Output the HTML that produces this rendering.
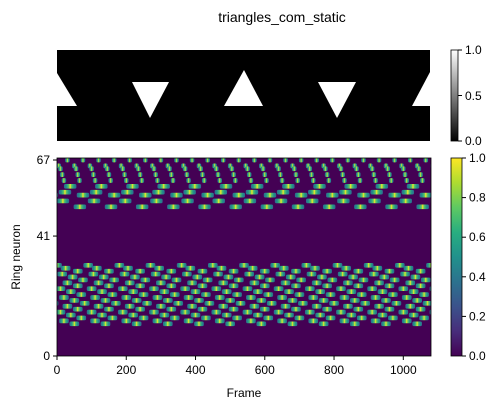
<!DOCTYPE html>
<html><head><meta charset="utf-8"><style>
html,body{margin:0;padding:0;background:#fff}
svg{display:block;font-family:"Liberation Sans","DejaVu Sans",sans-serif}
</style></head><body>
<svg id="chart" width="504" height="411" viewBox="0 0 504 411">
<defs>
<linearGradient id="gray" x1="0" y1="1" x2="0" y2="0"><stop offset="0" stop-color="#000"/><stop offset="1" stop-color="#fff"/></linearGradient>
<linearGradient id="viridis" x1="0" y1="1" x2="0" y2="0">
<stop offset="0" stop-color="#440154"/><stop offset="0.125" stop-color="#472d7b"/><stop offset="0.25" stop-color="#3b528b"/><stop offset="0.375" stop-color="#2c728e"/><stop offset="0.5" stop-color="#21918c"/><stop offset="0.625" stop-color="#28ae80"/><stop offset="0.75" stop-color="#5ec962"/><stop offset="0.875" stop-color="#addc30"/><stop offset="1" stop-color="#fde725"/></linearGradient>
<linearGradient id="blob" x1="0" y1="0" x2="1" y2="0">
<stop offset="0" stop-color="#31688e"/><stop offset="0.2" stop-color="#21918c"/><stop offset="0.4" stop-color="#5ec962"/><stop offset="0.5" stop-color="#fde725"/><stop offset="0.6" stop-color="#5ec962"/><stop offset="0.8" stop-color="#21918c"/><stop offset="1" stop-color="#31688e"/></linearGradient>
<clipPath id="hmclip"><rect x="57" y="158" width="374" height="198"/></clipPath>
</defs>
<text x="282" y="22" font-size="14" text-anchor="middle">triangles_com_static</text>

<g>
<rect x="57" y="50" width="373" height="91" fill="#000"/>
<polygon points="57,73 77,106 57,106" fill="#fff"/>
<polygon points="132,82 169,82 150,118" fill="#fff"/>
<polygon points="224,106 263,106 244,70" fill="#fff"/>
<polygon points="318,82 356,82 337,118" fill="#fff"/>
<polygon points="412,106 430,106 430,72" fill="#fff"/>
</g>
<g>
<rect x="451" y="50" width="7" height="91" fill="url(#gray)" stroke="#000" stroke-width="0.8"/>
<g font-size="12" fill="#000">
<line x1="458" y1="50" x2="462" y2="50" stroke="#000"/><text x="465" y="54">1.0</text>
<line x1="458" y1="95.5" x2="462" y2="95.5" stroke="#000"/><text x="465" y="100">0.5</text>
<line x1="458" y1="141" x2="462" y2="141" stroke="#000"/><text x="465" y="145">0.0</text>
</g></g>

<g id="heatmap">
<rect x="57" y="158" width="374" height="198" fill="#440154"/>
<g id="blobs" clip-path="url(#hmclip)"></g>
</g>
<rect x="57" y="158" width="374" height="198" fill="none" stroke="#000" stroke-width="0.8"/>
<g id="axes" font-size="12" fill="#000"></g>
<text x="244" y="397" font-size="12" text-anchor="middle">Frame</text>
<text x="0" y="0" font-size="12" text-anchor="middle" transform="translate(20,257) rotate(-90)">Ring neuron</text>

<g>
<rect x="451" y="158" width="11" height="198" fill="url(#viridis)" stroke="#000" stroke-width="0.8"/>
<g id="cbticks" font-size="12"></g>
</g>
</svg>
<script>
const xTicks = [0, 200, 400, 600, 800, 1000];
const yTicks = [0, 41, 67];
const cbTicks = ["0.0", "0.2", "0.4", "0.6", "0.8", "1.0"];
const rowNeuron = [67, 65, 64, 62, 60, 58, 56, 55, 53, 51, 31, 30, 29, 28, 27, 26, 25, 24, 23, 22, 21, 20, 19, 18, 17, 16, 15, 14, 13, 12, 11];
const rowPeriod = [45, 45, 45, 45, 45, 90, 90, 90, 90, 90, 90, 90, 90, 90, 90, 90, 90, 90, 90, 90, 90, 90, 90, 90, 90, 90, 90, 90, 90, 90, 90];
const rowPhase  = [30, 5, 10, 15, 20, 38, 23, 75, 17, 66, 0, 25, 60, 15, 45, 75, 30, 60, 10, 40, 70, 20, 50, 80, 30, 60, 10, 40, 70, 20, 50];
const rowWidth  = [13, 13, 13, 13, 13, 36, 36, 36, 36, 36, 28, 28, 28, 28, 28, 28, 28, 28, 28, 28, 28, 28, 28, 28, 28, 28, 28, 28, 28, 28, 28];
const xMax = 1080, yMax = 67;
const X0 = 57, X1 = 431, Y0 = 356, Y1 = 160;
const xs = v => X0 + v / xMax * (X1 - X0);
const ys = v => Y0 - v / yMax * (Y0 - Y1);
const NS = "http://www.w3.org/2000/svg";
const blobs = document.getElementById("blobs");
const rowH = (Y0 - Y1) / yMax;
for (let r = 0; r < rowNeuron.length; r++) {
  for (let f = rowPhase[r] - rowPeriod[r]; f < xMax + rowPeriod[r]; f += rowPeriod[r]) {
    const el = document.createElementNS(NS, "rect");
    
    
    el.setAttribute("x", xs(f - rowWidth[r] / 2));
    el.setAttribute("y", ys(rowNeuron[r]) - rowH * 0.8);
    el.setAttribute("width", xs(rowWidth[r]) - X0);
    el.setAttribute("height", rowH * 1.6);
    el.setAttribute("rx", 1.5);
    el.setAttribute("fill", "url(#blob)");
    blobs.appendChild(el);
  }
}
const axes = document.getElementById("axes");
xTicks.forEach(t => {
  const l = document.createElementNS(NS, "line");
  
  
  l.setAttribute("x1", xs(t)); l.setAttribute("x2", xs(t));
  l.setAttribute("y1", 356); l.setAttribute("y2", 360); l.setAttribute("stroke", "#000");
  axes.appendChild(l);
  const tx = document.createElementNS(NS, "text");
  
  
  tx.setAttribute("x", xs(t)); tx.setAttribute("y", 374); tx.setAttribute("text-anchor", "middle");
  tx.textContent = t; axes.appendChild(tx);
});
yTicks.forEach(t => {
  const l = document.createElementNS(NS, "line");
  
  
  l.setAttribute("x1", 53); l.setAttribute("x2", 57);
  l.setAttribute("y1", ys(t)); l.setAttribute("y2", ys(t)); l.setAttribute("stroke", "#000");
  axes.appendChild(l);
  const tx = document.createElementNS(NS, "text");
  
  
  tx.setAttribute("x", 50); tx.setAttribute("y", ys(t) + 4); tx.setAttribute("text-anchor", "end");
  tx.textContent = t; axes.appendChild(tx);
});
const cb = document.getElementById("cbticks");
cbTicks.forEach((t, i) => {
  const y = 356 - i / (cbTicks.length - 1) * 198;
  const l = document.createElementNS(NS, "line");
  
  
  l.setAttribute("x1", 462); l.setAttribute("x2", 466);
  l.setAttribute("y1", y); l.setAttribute("y2", y); l.setAttribute("stroke", "#000");
  cb.appendChild(l);
  const tx = document.createElementNS(NS, "text");
  
  
  tx.setAttribute("x", 469); tx.setAttribute("y", y + 4);
  tx.textContent = t; cb.appendChild(tx);
});
</script>
</body></html>
